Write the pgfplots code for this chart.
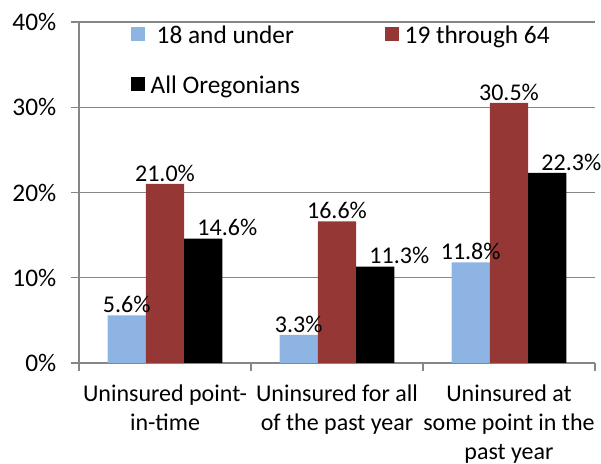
\documentclass[border=0pt]{standalone}
\usepackage{pgfplots}
\pgfplotsset{compat=1.18}
\usepackage{fontspec}
\setmainfont{Carlito}
\definecolor{cblue}{HTML}{8EB4E3}
\definecolor{cred}{HTML}{953735}
\definecolor{cgrid}{HTML}{868686}
\begin{document}
\begin{tikzpicture}
\useasboundingbox (-59.25pt,-75.75pt) rectangle (391.5pt,272.25pt);
\begin{axis}[
  width=387pt, height=255.75pt, scale only axis,
  font=\fontsize{18}{21.6}\selectfont,
  ybar=0pt, bar width=0.2227,
  xmin=-0.5, xmax=2.5, ymin=0, ymax=40,
  axis lines=left, axis line style={-, draw=cgrid, line width=0.9pt},
  ytick={0,10,20,30,40},
  yticklabel={\pgfmathprintnumber{\tick}\%},
  ymajorgrids, grid style={draw=cgrid, line width=0.9pt},
  major tick style={draw=cgrid, line width=0.9pt},
  tick align=outside, major tick length=6pt,
  xtick={0,1,2}, x tick style={draw=none},
  xticklabels={{Uninsured point-\\in-time},{Uninsured for all\\of the past year},{Uninsured at\\some point in the\\past year}},
  xticklabel style={align=center, font=\fontsize{18}{21.5}\selectfont, yshift=-7pt},
  extra x ticks={-0.5,0.5,1.5,2.5}, extra x tick labels={},
  extra x tick style={x tick style={draw=cgrid, line width=0.9pt}, major tick length=6pt, grid=none},
  yticklabel style={xshift=-7.5pt, font=\fontsize{19}{22}\selectfont},
  /pgf/number format/assume math mode=true,
  nodes near coords={\pgfmathprintnumber[fixed,fixed zerofill,precision=1]{\pgfplotspointmeta}\%},
  nodes near coords style={anchor=base, yshift=2pt, font=\fontsize{18}{21.6}\selectfont, /pgf/number format/assume math mode=true},
  legend columns=2,
  legend style={at={(axis description cs:0.093,1.0)}, anchor=north west, yshift=1.5pt, draw=none, fill=none,
    font=\fontsize{19}{23}\selectfont, row sep=19pt, nodes={inner xsep=4pt},
    /tikz/every even column/.append style={column sep=60pt}},
  legend image code/.code={\fill[#1] (0pt,-4pt) rectangle (10.5pt,6.5pt);},
]
\addplot[fill=cblue, draw=none] coordinates {(0,5.6) (1,3.3) (2,11.8)};
\addplot[fill=cred, draw=none] coordinates {(0,21.0) (1,16.6) (2,30.5)};
\addplot[fill=black, draw=none, nodes near coords style={xshift=18pt}] coordinates {(0,14.6) (1,11.3) (2,22.3)};
\legend{18 and under, 19 through 64, All Oregonians}
\end{axis}
\end{tikzpicture}
\end{document}
